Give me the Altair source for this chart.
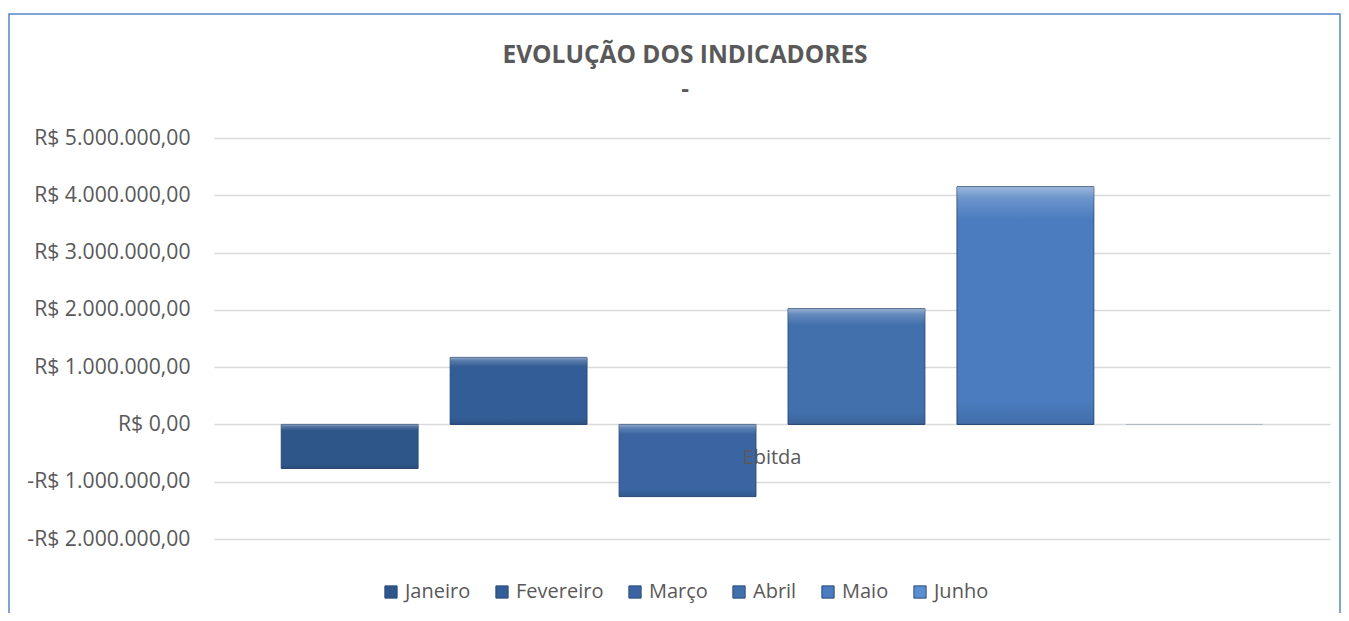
import altair as alt
import pandas as pd

indicador = ["Ebitda"] * 6
meses = ["Janeiro", "Fevereiro", "Março", "Abril", "Maio", "Junho"]
valores = [-770000, 1170000, -1260000, 2020000, 4150000, 0]
cores = ["#2f5689", "#335d96", "#3a65a2", "#4270ad", "#4a7cbf", "#5a8ed0"]
y_ticks = [-2000000, -1000000, 0, 1000000, 2000000, 3000000, 4000000, 5000000]

df = pd.DataFrame({"indicador": indicador, "mes": meses, "valor": valores})

FONT = "Open Sans"
GREY = "#595959"

x = alt.X(
    "indicador:N",
    title=None,
    scale=alt.Scale(paddingInner=0, paddingOuter=0.0685),
    axis=alt.Axis(orient="bottom", offset=-92, domain=False, ticks=False, grid=False,
                  labelAngle=0, labelPadding=0, labelFontSize=20, labelColor=GREY,
                  labelFont=FONT, zindex=2),
)
xo = alt.XOffset("mes:N", sort=meses, scale=alt.Scale(paddingInner=0.19, paddingOuter=0))
y = alt.Y(
    "valor:Q",
    title=None,
    scale=alt.Scale(domain=[-2000000, 5000000], nice=False, zero=False),
    axis=alt.Axis(values=y_ticks, format="$,.2f", domain=False, ticks=False,
                  labelPadding=24, labelFontSize=21.2, labelColor=GREY, labelFont=FONT,
                  gridColor="#d9d9d9", gridWidth=1.3),
)

bars = alt.Chart(df).mark_bar(stroke="#294b78", strokeWidth=1).encode(
    x=x, xOffset=xo, y=y,
    strokeOpacity=alt.condition(alt.datum.valor == 0, alt.value(0.12), alt.value(1)),
    color=alt.Color(
        "mes:N", sort=meses,
        scale=alt.Scale(domain=meses, range=cores),
        legend=alt.Legend(orient="none", legendX=167, legendY=444, direction="horizontal",
                          title=None, symbolType="square", symbolSize=150,
                          symbolStrokeColor="#294b78", symbolStrokeWidth=1,
                          labelFontSize=20, labelColor=GREY, labelFont=FONT,
                          labelOffset=4, columnPadding=21),
    ),
)

shine = alt.Chart(df).mark_bar(
    fill=alt.Gradient(
        gradient="linear", x1=0, x2=0, y1=0, y2=1,
        stops=[
            alt.GradientStop(color="rgba(255,255,255,0.45)", offset=0),
            alt.GradientStop(color="rgba(255,255,255,0.18)", offset=0.05),
            alt.GradientStop(color="rgba(255,255,255,0.0)", offset=0.14),
            alt.GradientStop(color="rgba(0,0,0,0.0)", offset=0.9),
            alt.GradientStop(color="rgba(0,0,0,0.12)", offset=1),
        ],
    )
).encode(x=x, xOffset=xo, y=y)

border = alt.Chart(pd.DataFrame({"a": [0]})).mark_rect(
    fillOpacity=0, stroke="#5585c5", strokeWidth=1.5
).encode(x=alt.value(-205), x2=alt.value(1126), y=alt.value(-124), y2=alt.value(520))

chart = alt.layer(border, bars, shine).properties(
    width=1116,
    height=401,
    autosize=alt.AutoSizeParams(type="none"),
    padding={"left": 206, "top": 130, "right": 11, "bottom": 74},
    title=alt.Title("EVOLUÇÃO DOS INDICADORES", subtitle="-", anchor="middle",
                    font=FONT, fontSize=24.5, fontWeight="bold", color=GREY,
                    subtitleFont=FONT, subtitleFontSize=24, subtitleFontWeight="bold",
                    subtitleColor=GREY, subtitlePadding=10, dx=-87, offset=-90),
).configure(
    locale={"number": {"decimal": ",", "thousands": ".", "grouping": [3],
                       "currency": ["R$ ", ""], "minus": "-"}},
    background="white",
    view=alt.ViewConfig(strokeWidth=0),
)

chart.save("out.html", embed_options={"renderer": "svg", "actions": False})
